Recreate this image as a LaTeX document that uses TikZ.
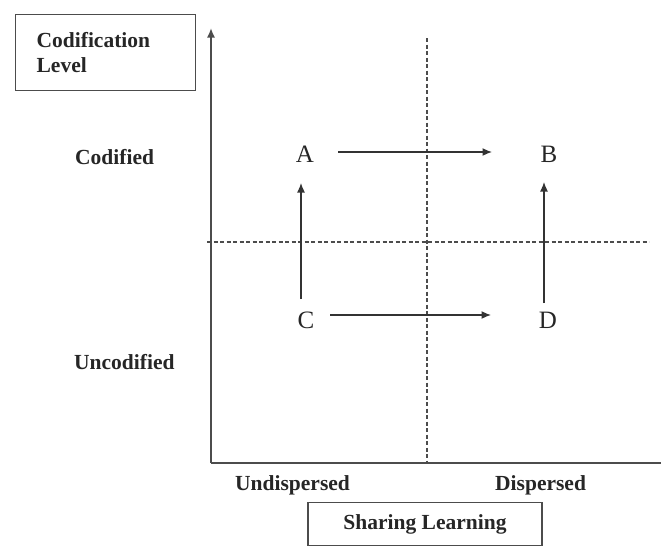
\documentclass[tikz,border=0pt]{standalone}
\usepackage{fontspec}
\setmainfont{Liberation Serif}
\usetikzlibrary{arrows.meta}
\begin{document}
\begin{tikzpicture}[x=1pt,y=-1pt,
  lbl/.style={font=\fontsize{21.5}{25}\selectfont\bfseries, text=black!85, inner sep=0pt},
  letter/.style={font=\fontsize{25}{30}\selectfont, text=black!85, inner sep=0pt},
  axis/.style={draw=black!70, line width=1.8pt},
  guide/.style={draw=black!70, line width=1.3pt, dash pattern=on 4pt off 2.5pt},
  tip/.style={-{Latex[length=9.5pt,width=8pt]}},
  arr/.style={draw=black!80, line width=1.3pt, tip},
  frame/.style={draw=black!70, line width=1.3pt, fill=white}]
\useasboundingbox[fill=white] (0,0) rectangle (661,546);

% axis titles in framed boxes
\node[frame, lbl, anchor=north west, minimum width=180pt, minimum height=76pt,
      text width=138pt, inner xsep=21pt, align=left] (ytitle) at (15,14) {Codification\\Level};
\node[frame, lbl, minimum width=234pt, minimum height=43pt] (xtitle) at (425,524) {Sharing Learning};

% axes
\coordinate (O) at (211,463);
\coordinate (ytop) at (211,28);
\coordinate (xend) at (661,463);
\draw[axis, tip] (O) -- (ytop);
\draw[axis] (O) -- (xend);

% quadrant dividers
\coordinate (vtop) at (427,38);
\coordinate (vbot) at (427,463);
\coordinate (hleft) at (207,242);
\coordinate (hright) at (649,242);
\draw[guide] (vtop) -- (vbot);
\draw[guide] (hleft) -- (hright);

% level and spread labels
\node[lbl, anchor=west] (codified) at (75,157) {Codified};
\node[lbl, anchor=west] (uncodified) at (74,362) {Uncodified};
\node[lbl, anchor=west] (undisp) at (235,485) {Undispersed};
\node[lbl, anchor=west] (disp) at (495,485) {Dispersed};

% quadrant points
\node[letter] (A) at (305,154.5) {A};
\node[letter] (B) at (549,154.5) {B};
\node[letter] (C) at (306,320) {C};
\node[letter] (D) at (548,320) {D};

% transitions
\draw[arr] ([xshift=33pt,yshift=2.5pt]A.center) -- ([xshift=-57pt,yshift=2.5pt]B.center);
\draw[arr] ([xshift=24pt,yshift=5pt]C.center) -- ([xshift=-57pt,yshift=5pt]D.center);
\draw[arr] ([xshift=-5pt,yshift=21pt]C.center) -- ([xshift=-4pt,yshift=-28.5pt]A.center);
\draw[arr] ([xshift=-4pt,yshift=17pt]D.center) -- ([xshift=-5pt,yshift=-27.5pt]B.center);
\end{tikzpicture}
\end{document}
